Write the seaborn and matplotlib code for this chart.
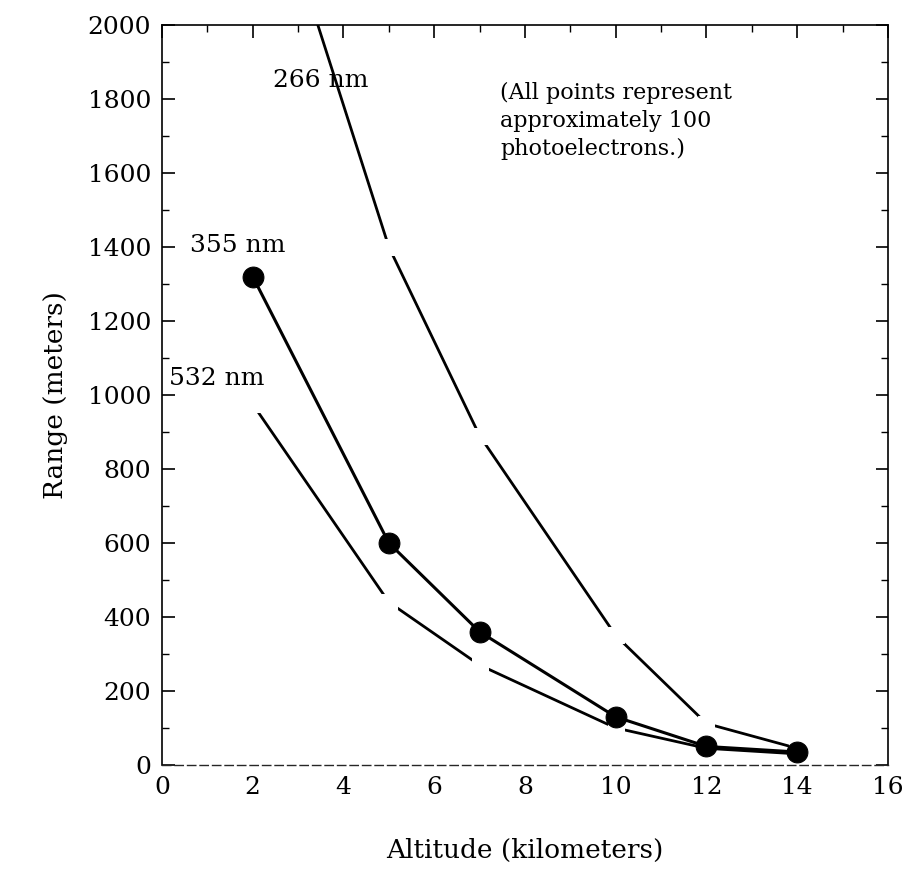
import matplotlib
matplotlib.use("Agg")
import matplotlib.pyplot as plt
import seaborn as sns
import pandas as pd
from matplotlib.ticker import MultipleLocator

altitude = [2, 5, 7, 10, 12, 14]
range_266 = [2550, 1400, 890, 350, 112, 45]
range_355 = [1320, 600, 360, 130, 50, 35]
range_532 = [975, 440, 270, 100, 45, 30]

x_ticks = [0, 2, 4, 6, 8, 10, 12, 14, 16]
y_ticks = [0, 200, 400, 600, 800, 1000, 1200, 1400, 1600, 1800, 2000]

sns.set_style("ticks")
plt.rcParams['font.family'] = ['DejaVu Serif']
plt.rcParams['text.color'] = 'black'
plt.rcParams['axes.labelcolor'] = 'black'
plt.rcParams['xtick.color'] = 'black'
plt.rcParams['ytick.color'] = 'black'

df = pd.DataFrame({
    "Altitude": altitude * 3,
    "Range": range_266 + range_355 + range_532,
    "Wavelength": ["266 nm"] * 6 + ["355 nm"] * 6 + ["532 nm"] * 6,
})

fig = plt.figure(figsize=(9.23, 8.82), dpi=100)
ax = fig.add_axes([0.1755, 0.1327, 0.7865, 0.839])

for wl in ["266 nm", "532 nm", "355 nm"]:
    sub = df[df["Wavelength"] == wl]
    if wl == "355 nm":
        sns.lineplot(data=sub, x="Altitude", y="Range", ax=ax, color="black",
                     linewidth=2.2, marker="o", markersize=15,
                     markerfacecolor="black", markeredgecolor="black",
                     legend=False, zorder=5)
    else:
        sns.lineplot(data=sub, x="Altitude", y="Range", ax=ax, color="black",
                     linewidth=2.0, marker="s", markersize=11,
                     markerfacecolor="white", markeredgecolor="white",
                     legend=False, zorder=3)

ax.set_xlim(0, 16)
ax.set_ylim(0, 2000)
ax.set_xticks(x_ticks)
ax.set_yticks(y_ticks)
ax.xaxis.set_minor_locator(MultipleLocator(1))
ax.yaxis.set_minor_locator(MultipleLocator(100))
ax.tick_params(axis="both", which="both", direction="in", top=True, right=True,
               labelsize=18, colors="black")
ax.tick_params(which="major", length=9, width=1.2)
ax.tick_params(which="minor", length=5, width=1.0)
ax.tick_params(axis="x", which="both", bottom=False, pad=8)
ax.tick_params(axis="y", which="both", pad=8)
ax.set_yticklabels([str(v) for v in y_ticks])

for side in ["top", "right", "left"]:
    ax.spines[side].set_visible(True)
    ax.spines[side].set_linewidth(1.2)
    ax.spines[side].set_color("black")
ax.spines["bottom"].set_linestyle((0, (6, 3)))
ax.spines["bottom"].set_linewidth(1.0)

ax.set_xlabel("Altitude (kilometers)", fontsize=19, labelpad=28)
ax.set_ylabel("Range (meters)", fontsize=19, labelpad=14)

ax.text(2.45, 1850, "266 nm", fontsize=18, ha="left", va="center", zorder=6)
ax.text(0.62, 1405, "355 nm", fontsize=18, ha="left", va="center")
ax.text(0.15, 1045, "532 nm", fontsize=18, ha="left", va="center")
ax.text(7.45, 1740, "(All points represent\napproximately 100\nphotoelectrons.)",
        fontsize=16, ha="left", va="center", linespacing=1.35)

fig.savefig("out.png", dpi=100)
